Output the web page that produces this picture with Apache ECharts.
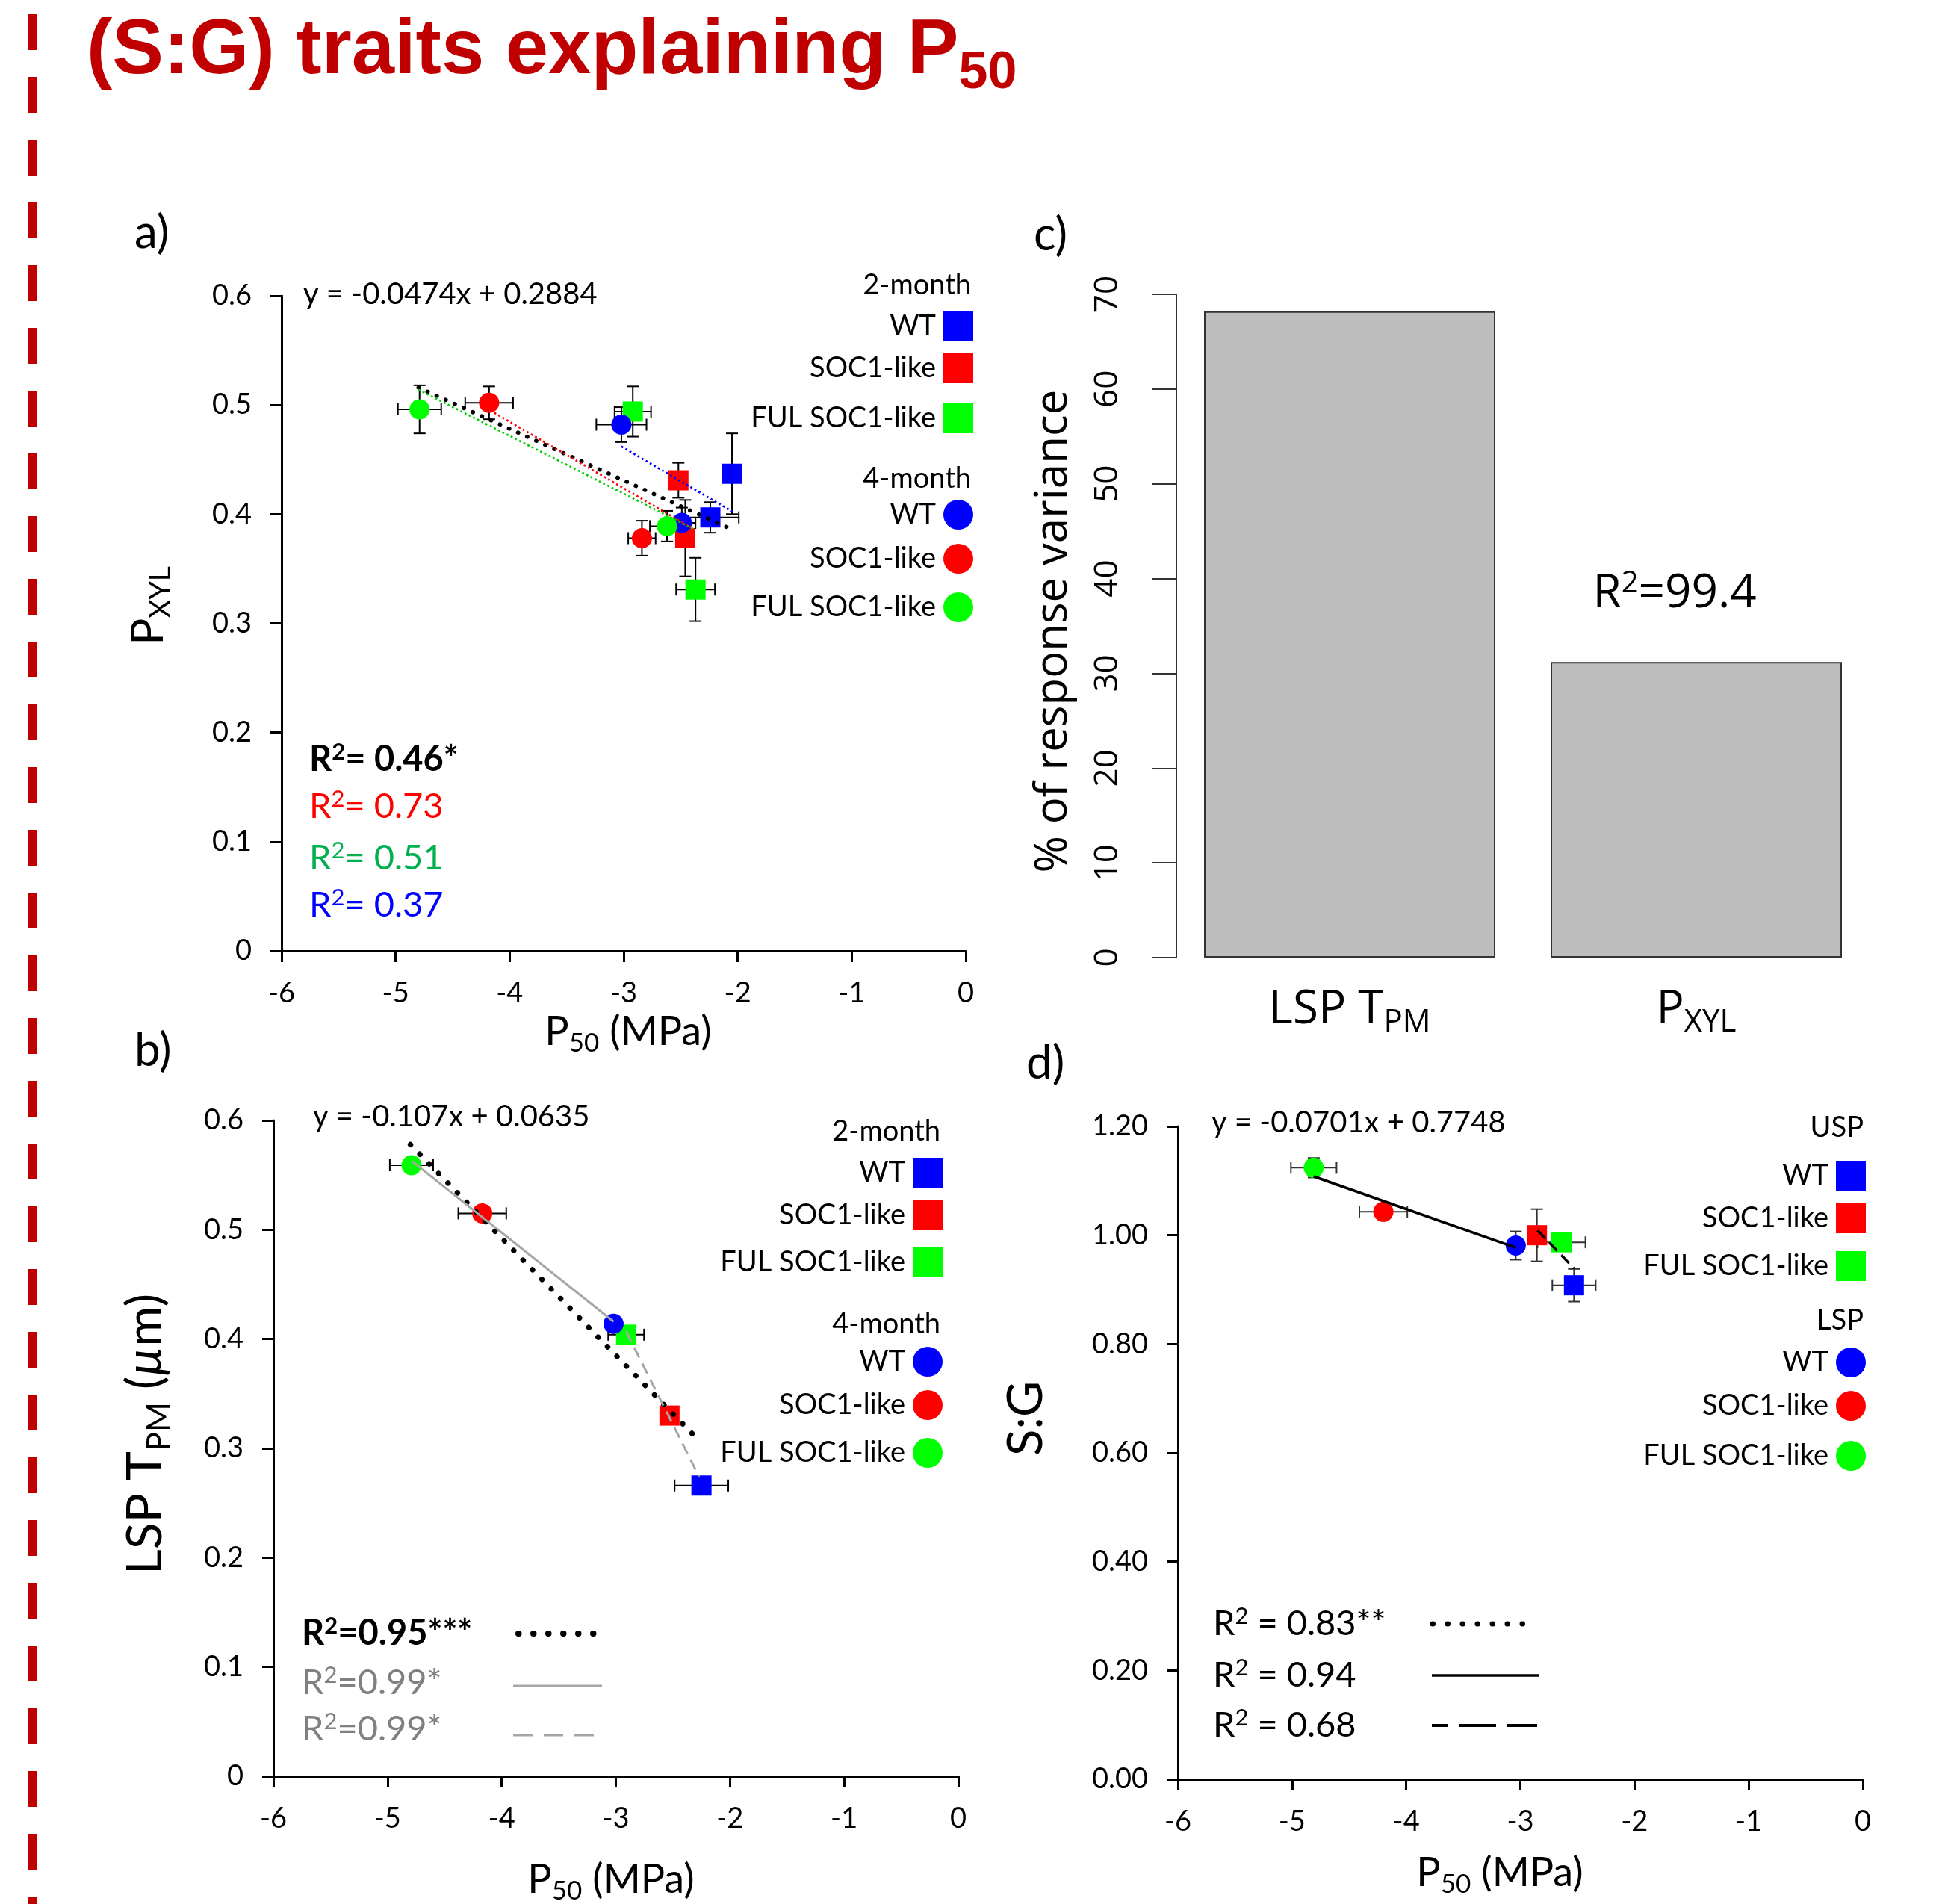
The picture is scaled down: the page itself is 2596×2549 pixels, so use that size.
<!DOCTYPE html>
<html>
<head>
<meta charset="utf-8">
<script src="https://cdn.jsdelivr.net/npm/echarts@6/dist/echarts.min.js"></script>
<style>
  html, body { margin: 0; padding: 0; background: #fff; }
  #chart { width: 2596px; height: 2549px; }
</style>
</head>
<body>
<div id="chart"></div>
<script>
// ---- data ----
const groups = ['WT', 'SOC1-like', 'FUL SOC1-like']
const groupColors = ['#0000FF', '#FF0000', '#00FF00']

// a) P50 vs PXYL, points as [P50, PXYL, P50 err, PXYL err], two per group
const aTwoMonth = [
  [[-2.05, 0.437, 0, 0.037], [-2.24, 0.397, 0.25, 0.014]],
  [[-2.52, 0.431, 0, 0.016], [-2.46, 0.378, 0, 0.035]],
  [[-2.92, 0.494, 0.16, 0.023], [-2.37, 0.331, 0.17, 0.029]],
]
const aFourMonth = [
  [[-3.02, 0.482, 0.22, 0.016], [-2.49, 0.392, 0.12, 0.014]],
  [[-4.18, 0.502, 0.21, 0.015], [-2.84, 0.378, 0.12, 0.016]],
  [[-4.79, 0.496, 0.19, 0.022], [-2.62, 0.389, 0.15, 0.014]],
]
const aTrendAll = [[-4.80, 0.516], [-2.07, 0.387]]
const aTrendGroup = [
  [[-3.02, 0.462], [-2.04, 0.402]],
  [[-4.17, 0.495], [-2.38, 0.386]],
  [[-4.80, 0.514], [-2.38, 0.386]],
]
const aR2 = ['0.46*', '0.73', '0.51', '0.37']
const aEquation = 'y = -0.0474x + 0.2884'

// b) P50 vs LSP TPM, [P50, TPM, P50 err, TPM err]
const bTwoMonth = [[-2.25, 0.266, 0.235, 0], [-2.53, 0.330, 0, 0], [-2.91, 0.404, 0.157, 0]]
const bFourMonth = [[-3.02, 0.414, 0, 0], [-4.17, 0.515, 0.21, 0], [-4.79, 0.559, 0.19, 0]]
const bTrendAll = [[-4.80, 0.578], [-2.27, 0.307]]
const bTrendFour = [[-4.79, 0.563], [-3.02, 0.416]]
const bTrendTwo = [[-2.91, 0.407], [-2.27, 0.274]]
const bR2 = ['0.95***', '0.99*', '0.99*']
const bEquation = 'y = -0.107x + 0.0635'

// c) % of response variance
const cCategories = ['LSP T_PM', 'P_XYL']
const cValues = [68.2, 31.2]
const cR2 = '99.4'

// d) P50 vs S:G, [P50, S:G, P50 err, S:G err]
const dUSP = [[-2.53, 0.908, 0.19, 0.030], [-2.855, 1.000, 0, 0.048], [-2.64, 0.987, 0.21, 0]]
const dLSP = [[-3.04, 0.981, 0, 0.026], [-4.20, 1.043, 0.21, 0], [-4.81, 1.124, 0.20, 0.018]]
const dTrendLSP = [[-4.81, 1.108], [-3.04, 0.977]]
const dTrendUSP = [[-2.85, 1.009], [-2.53, 0.939]]
const dR2 = ['0.83**', '0.94', '0.68']
const dEquation = 'y = -0.0701x + 0.7748'

// ---- helpers ----
const F = 'Lato, "Open Sans", sans-serif'
const FR = '"Open Sans", "Noto Sans", sans-serif'
const FT = '"Liberation Sans", Arial, sans-serif'

// markup: _{sub} ^{sup} ~{italic}
const toRich = (s, size, font, weight, color, subRatio) => {
  const k = subRatio || 0.65
  const base = { fontSize: size, fontFamily: font, fontWeight: weight, color: color, fill: color, verticalAlign: 'middle' }
  const rich = {
    n: base,
    i: Object.assign({}, base, { fontStyle: 'italic' }),
    d: Object.assign({}, base, { fontSize: Math.round(size * k), padding: [Math.round(size * 0.55), 0, 0, 0] }),
    u: Object.assign({}, base, { fontSize: Math.round(size * k), padding: [0, 0, Math.round(size * 0.42), 0] }),
  }
  let out = ''
  let last = 0
  s.replace(/([_^~])\{([^}]*)\}/g, (m, t, c, off) => {
    if (off > last) out += '{n|' + s.slice(last, off) + '}'
    out += '{' + (t === '_' ? 'd' : t === '^' ? 'u' : 'i') + '|' + c + '}'
    last = off + m.length
    return m
  })
  if (last < s.length) out += '{n|' + s.slice(last) + '}'
  return { text: out, rich }
}

const graphics = []
const addText = (x, y, s, o = {}) => {
  const size = o.size || 38
  const color = o.color || '#000'
  const r = toRich(s, size, o.font || F, o.weight || 'normal', color, o.sub)
  const align = o.align || 'left'
  graphics.push({
    type: 'text', x, y, rotation: o.rot || 0, z: 20, silent: true,
    style: {
      text: r.text, rich: r.rich, fill: color,
      fontSize: size, fontFamily: o.font || F,
      align, textAlign: align, verticalAlign: 'middle', textVerticalAlign: 'middle',
    },
  })
}
const addLine = (x1, y1, x2, y2, st) => {
  graphics.push({ type: 'line', z: 20, silent: true, shape: { x1, y1, x2, y2 }, style: st })
}

// custom legend: heading + three squares, heading + three circles
const addLegend = (heads, markerX, ys) => {
  addText(markerX + 17, ys[0], heads[0], { align: 'right' })
  addText(markerX + 17, ys[4], heads[1], { align: 'right' })
  groups.forEach((name, i) => {
    addText(markerX - 30, ys[1 + i], name, { align: 'right' })
    graphics.push({ type: 'rect', z: 20, silent: true, shape: { x: markerX - 20, y: ys[1 + i] - 20, width: 40, height: 40 }, style: { fill: groupColors[i] } })
    addText(markerX - 30, ys[5 + i], name, { align: 'right' })
    graphics.push({ type: 'circle', z: 20, silent: true, shape: { cx: markerX, cy: ys[5 + i], r: 20 }, style: { fill: groupColors[i] } })
  })
}

const p50Axis = (gi) => ({
  type: 'value', gridIndex: gi, min: -6, max: 0, interval: 1,
  axisLine: { show: true, onZero: false, lineStyle: { color: '#000', width: 3 } },
  axisTick: { show: true, length: 15, lineStyle: { color: '#000', width: 3 } },
  axisLabel: { color: '#000', fontFamily: F, fontSize: 38, margin: 38, showMinLabel: true, showMaxLabel: true },
  splitLine: { show: false },
})
const valAxis = (gi, max, interval, fmt) => ({
  type: 'value', gridIndex: gi, min: 0, max, interval,
  axisLine: { show: true, onZero: false, lineStyle: { color: '#000', width: 3 } },
  axisTick: { show: true, length: 15, lineStyle: { color: '#000', width: 3 } },
  axisLabel: { color: '#000', fontFamily: F, fontSize: 38, margin: 40, formatter: fmt, showMinLabel: true, showMaxLabel: true },
  splitLine: { show: false },
})

const scatterSet = (gi, pts, symbol) => pts.map((g, i) => ({
  type: 'scatter', xAxisIndex: gi, yAxisIndex: gi, symbol, symbolSize: 27, z: 3,
  itemStyle: { color: groupColors[i], opacity: 1 },
  data: g.map((p) => [p[0], p[1]]),
}))

const errorBars = (gi, pts, color) => ({
  type: 'custom', xAxisIndex: gi, yAxisIndex: gi, z: 2, silent: true,
  data: pts,
  renderItem: (params, api) => {
    const x = api.value(0), y = api.value(1), ex = api.value(2), ey = api.value(3)
    const st = { stroke: color, lineWidth: 2 }
    const kids = []
    const cap = 8
    if (ex > 0) {
      const l = api.coord([x - ex, y]), r = api.coord([x + ex, y])
      kids.push({ type: 'line', shape: { x1: l[0], y1: l[1], x2: r[0], y2: r[1] }, style: st })
      kids.push({ type: 'line', shape: { x1: l[0], y1: l[1] - cap, x2: l[0], y2: l[1] + cap }, style: st })
      kids.push({ type: 'line', shape: { x1: r[0], y1: r[1] - cap, x2: r[0], y2: r[1] + cap }, style: st })
    }
    if (ey > 0) {
      const t = api.coord([x, y + ey]), b = api.coord([x, y - ey])
      kids.push({ type: 'line', shape: { x1: t[0], y1: t[1], x2: b[0], y2: b[1] }, style: st })
      kids.push({ type: 'line', shape: { x1: t[0] - cap, y1: t[1], x2: t[0] + cap, y2: t[1] }, style: st })
      kids.push({ type: 'line', shape: { x1: b[0] - cap, y1: b[1], x2: b[0] + cap, y2: b[1] }, style: st })
    }
    return { type: 'group', children: kids }
  },
})

const trend = (gi, data, color, width, dash, cap) => ({
  type: 'line', xAxisIndex: gi, yAxisIndex: gi, data, z: 4, silent: true,
  symbol: 'none', showSymbol: false,
  lineStyle: { color, width, type: dash, cap: cap || 'butt' },
})

// ---- free texts ----
addText(116, 70, '(S:G) traits explaining P_{50}', { size: 103, weight: 'bold', color: '#C00000', font: FT, sub: 0.68 })
addLine(43, 19, 43, 2549, { stroke: '#C00000', lineWidth: 12, lineDash: [48, 36] })

addText(180, 312, 'a)', { size: 62 })
addText(180, 1407, 'b)', { size: 62 })
addText(1384, 315, 'c)', { size: 62 })
addText(1374, 1424, 'd)', { size: 62 })

// a
addText(406, 394, aEquation, { size: 40 })
addText(841, 1382, 'P_{50} (MPa)', { size: 54, align: 'center' })
addText(199, 811, 'P_{XYL}', { size: 60, align: 'center', rot: Math.PI / 2 })
const aR2Colors = ['#000', '#FF0000', '#00B050', '#0000FF']
;[1017, 1080, 1149, 1212].forEach((y, i) => {
  addText(414, y, 'R^{2}= ' + aR2[i], { size: 47, color: aR2Colors[i], weight: i === 0 ? 'bold' : 'normal' })
})
addLegend(['2-month', '4-month'], 1283, [382, 437, 493, 560, 641, 689, 748, 813])

// b
addText(419, 1495, bEquation, { size: 40 })
addText(818, 2517, 'P_{50} (MPa)', { size: 54, align: 'center' })
addText(195, 1920, 'LSP T_{PM} (~{µ}m)', { size: 66, align: 'center', rot: Math.PI / 2 })
const bR2Colors = ['#000', '#808080', '#808080']
;[2187, 2253, 2315].forEach((y, i) => {
  addText(404, y, 'R^{2}=' + bR2[i], { size: 47, color: bR2Colors[i], weight: i === 0 ? 'bold' : 'normal' })
})
addLine(694, 2187, 811, 2187, { stroke: '#000', lineWidth: 8, lineDash: [0.5, 19.5], lineCap: 'round' })
addLine(687, 2257, 806, 2257, { stroke: '#A6A6A6', lineWidth: 3 })
addLine(687, 2323, 800, 2323, { stroke: '#A6A6A6', lineWidth: 3, lineDash: [26, 15] })
addLegend(['2-month', '4-month'], 1242, [1515, 1570, 1627, 1690, 1773, 1823, 1881, 1945])

// c
addText(1411, 845, '% of response variance', { size: 60, font: FR, align: 'center', rot: Math.PI / 2 })
addText(2242, 795, 'R^{2}=' + cR2, { size: 62, font: FR, align: 'center' })

// d
addText(1622, 1503, dEquation, { size: 40 })
addText(2008, 2508, 'P_{50} (MPa)', { size: 54, align: 'center' })
addText(1374, 1899, 'S:G', { size: 66, align: 'center', rot: Math.PI / 2 })
;[2174, 2243, 2310].forEach((y, i) => {
  addText(1624, y, 'R^{2} = ' + dR2[i], { size: 47 })
})
addLine(1918, 2174, 2053, 2174, { stroke: '#000', lineWidth: 7, lineDash: [0.5, 19.5], lineCap: 'round' })
addLine(1917, 2243, 2061, 2243, { stroke: '#000', lineWidth: 3.5 })
addLine(1917, 2310, 2058, 2310, { stroke: '#000', lineWidth: 4, lineDash: [21, 15, 50, 14, 41] })
addLegend(['USP', 'LSP'], 2478, [1510, 1574, 1631, 1695, 1768, 1824, 1882, 1949])

// ---- chart ----
const flat = (arr) => arr.reduce((acc, g) => acc.concat(g), [])

const option = {
  animation: false,
  backgroundColor: '#fff',
  grid: [
    { left: 377, top: 396, width: 916, height: 877 },
    { left: 366, top: 1500, width: 917, height: 878 },
    { left: 1575, top: 394, width: 928, height: 888 },
    { left: 1577, top: 1508, width: 917, height: 874 },
  ],
  xAxis: [
    p50Axis(0),
    p50Axis(1),
    {
      type: 'category', gridIndex: 2, data: cCategories,
      axisLine: { show: false }, axisTick: { show: false },
      axisLabel: {
        interval: 0, margin: 32,
        formatter: (v) => {
          const [m, s] = v.split('_')
          return '{m|' + m + '}{s|' + s + '}'
        },
        rich: {
          m: { fontFamily: FR, fontSize: 62, color: '#000' },
          s: { fontFamily: FR, fontSize: 42, color: '#000', padding: [34, 0, 0, 0] },
        },
      },
    },
    p50Axis(3),
  ],
  yAxis: [
    valAxis(0, 0.6, 0.1),
    valAxis(1, 0.6, 0.1),
    {
      type: 'value', gridIndex: 2, min: 0, max: 70, interval: 10,
      axisLine: { show: true, onZero: false, lineStyle: { color: '#333', width: 2 } },
      axisTick: { show: true, length: 32, lineStyle: { color: '#333', width: 2 } },
      axisLabel: { rotate: 90, margin: 70, fontFamily: FR, fontSize: 44, color: '#000' },
      splitLine: { show: false },
    },
    valAxis(3, 1.2, 0.2, (v) => v.toFixed(2)),
  ],
  graphic: { elements: graphics },
  series: [
    // a
    errorBars(0, flat(aTwoMonth).concat(flat(aFourMonth)), '#000'),
    ...scatterSet(0, aTwoMonth, 'rect'),
    ...scatterSet(0, aFourMonth, 'circle'),
    trend(0, aTrendAll, '#000', 5.5, [0.5, 12.8], 'round'),
    ...aTrendGroup.map((d, i) => trend(0, d, groupColors[i] === '#00FF00' ? '#00D000' : groupColors[i], 2.7, [2.7, 3.6])),
    // b
    errorBars(1, bTwoMonth.concat(bFourMonth), '#000'),
    ...scatterSet(1, bTwoMonth.map((p) => [p]), 'rect'),
    ...scatterSet(1, bFourMonth.map((p) => [p]), 'circle'),
    trend(1, bTrendAll, '#000', 7, [0.5, 17.5], 'round'),
    trend(1, bTrendFour, '#A6A6A6', 3, 'solid'),
    trend(1, bTrendTwo, '#A6A6A6', 3, [15, 9]),
    // c
    {
      type: 'bar', xAxisIndex: 2, yAxisIndex: 2, data: cValues, barWidth: 390,
      itemStyle: { color: '#BEBEBE', borderColor: '#333', borderWidth: 2 },
    },
    // d
    errorBars(3, dUSP.concat(dLSP), '#333'),
    ...scatterSet(3, dUSP.map((p) => [p]), 'rect'),
    ...scatterSet(3, dLSP.map((p) => [p]), 'circle'),
    trend(3, dTrendLSP, '#000', 3.5, 'solid'),
    trend(3, dTrendUSP, '#000', 3.5, [15, 8]),
  ],
}

const chart = echarts.init(document.getElementById('chart'), null, { renderer: 'canvas' })
chart.setOption(option)
</script>
</body>
</html>
